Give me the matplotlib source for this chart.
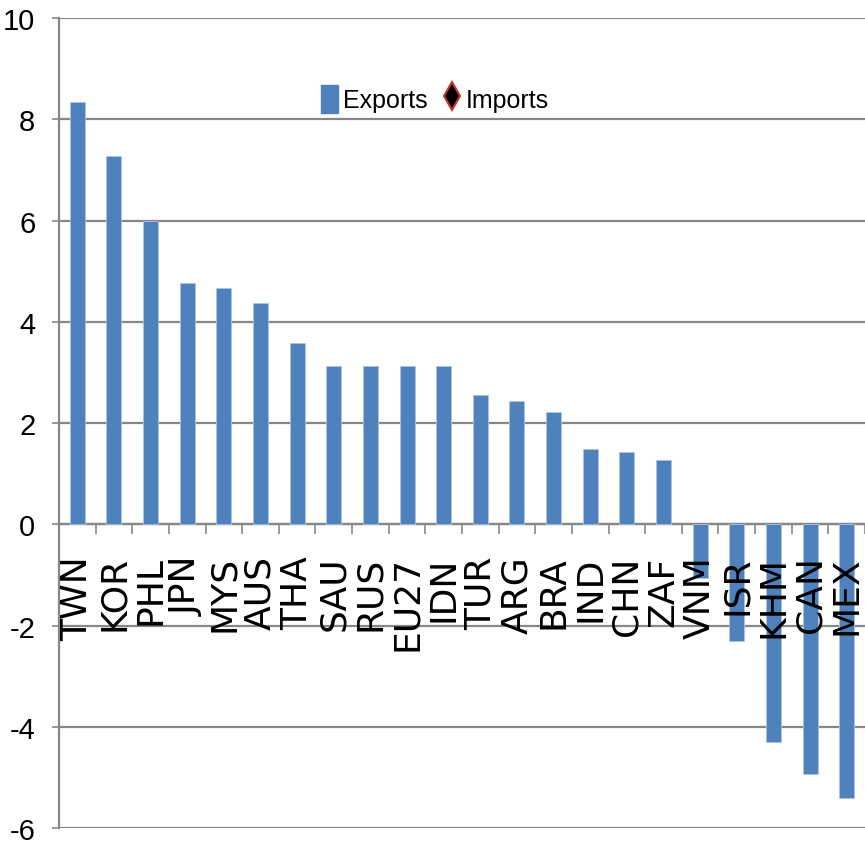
import matplotlib
matplotlib.use("Agg")
from matplotlib import pyplot as plt
from matplotlib.patches import Patch
from matplotlib.lines import Line2D
import numpy as np

# Change in trade by economy
countries = ["TWN", "KOR", "PHL", "JPN", "MYS", "AUS", "THA", "SAU", "RUS", "EU27",
             "IDN", "TUR", "ARG", "BRA", "IND", "CHN", "ZAF", "VNM", "ISR", "KHM",
             "CAN", "MEX"]
exports = [8.35, 7.28, 6.0, 4.76, 4.66, 4.37, 3.58, 3.12, 3.12, 3.12,
           3.12, 2.55, 2.43, 2.21, 1.48, 1.42, 1.26, -1.07, -2.31, -4.31,
           -4.94, -5.40]
yticks = [-6, -4, -2, 0, 2, 4, 6, 8, 10]

num_font = ["Liberation Sans Narrow", "Liberation Sans", "DejaVu Sans"]
grid_col = "#878787"
bar_col = "#4F81BD"

fig = plt.figure(figsize=(8.65, 8.45), dpi=100)
ax = fig.add_axes([0.0682, 0.0189, 0.9318, 0.9586])

x = np.arange(len(countries))
ax.bar(x, exports, width=0.41, color=bar_col, edgecolor="#A9C4E6", linewidth=0.6, zorder=3)

ax.set_xlim(-0.5, len(countries) - 0.5)
ax.set_ylim(-6, 10)
ax.set_yticks(yticks)
ax.set_yticklabels([str(v) for v in yticks], fontsize=21, family=num_font)
ax.yaxis.grid(True, color=grid_col, linewidth=1.6, zorder=0)
ax.tick_params(axis="y", direction="out", length=5, width=1.2, color=grid_col, pad=12)

# category axis sits on the zero line, ticks between the bars
for s in ["top", "right"]:
    ax.spines[s].set_visible(False)
ax.spines["left"].set_color(grid_col)
ax.spines["left"].set_linewidth(1.6)
ax.spines["bottom"].set_position(("data", 0))
ax.spines["bottom"].set_color(grid_col)
ax.spines["bottom"].set_linewidth(1.6)
ax.set_xticks(x)
ax.set_xticklabels([])
ax.set_xticks(np.arange(-0.5, len(countries), 1.0), minor=True)
ax.tick_params(axis="x", which="major", length=0)
ax.tick_params(axis="x", which="minor", direction="out", length=7, width=1.2, color=grid_col)

# country names drawn over the bars
for xi, name in zip(x, countries):
    ax.annotate(name, xy=(xi, 0), xytext=(0, -31), textcoords="offset pixels",
                rotation=90, ha="center", va="top", fontsize=26,
                family="DejaVu Sans", zorder=5, annotation_clip=False)

handles = [Patch(facecolor=bar_col, edgecolor=bar_col),
           Line2D([], [], linestyle="none", marker="d", markersize=14,
                  markerfacecolor="black", markeredgecolor="#C0392B", markeredgewidth=1.5)]
ax.legend(handles, ["Exports", "Imports"], loc="center", bbox_to_anchor=(0.466, 0.9),
          ncol=2, frameon=False, prop={"family": num_font, "size": 18},
          handlelength=0.7, handleheight=1.4, handletextpad=0.2, columnspacing=0.6)

fig.savefig("out.png", dpi=100)
